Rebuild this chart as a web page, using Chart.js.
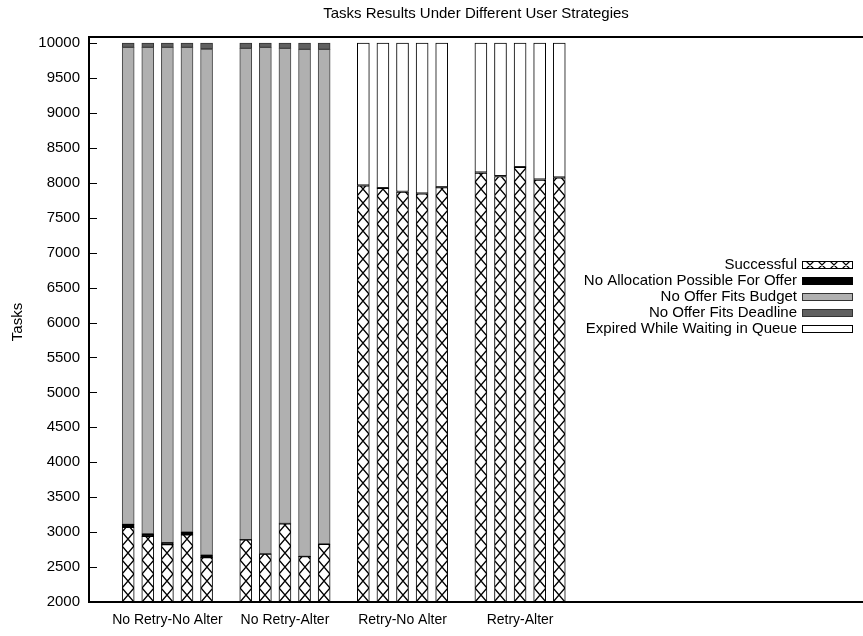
<!DOCTYPE html>
<html><head><meta charset="utf-8">
<script src="https://cdn.jsdelivr.net/npm/chart.js@4/dist/chart.umd.min.js"></script>
<style>html,body{margin:0;padding:0;background:#fff}#wrap{width:863px;height:636px}</style>
</head><body><div id="wrap"><canvas id="c" width="863" height="636"></canvas></div>
<script>
const groups = ['No Retry-No Alter', 'No Retry-Alter', 'Retry-No Alter', 'Retry-Alter'];
const seriesNames = ['Successful', 'No Allocation Possible For Offer', 'No Offer Fits Budget', 'No Offer Fits Deadline', 'Expired While Waiting in Queue'];
const successful = [3070, 2940, 2820, 2960, 2635, 2890, 2685, 3120, 2650, 2827, 7955, 7920, 7865, 7840, 7930, 8140, 8090, 8220, 8040, 8070];
const noAllocation = [40, 35, 30, 40, 35, 3, 3, 3, 3, 3, 0, 0, 0, 0, 0, 0, 0, 0, 0, 0];
const noBudget = [6828, 6963, 7088, 6938, 7244, 7031, 7250, 6801, 7257, 7080, 0, 0, 0, 0, 0, 0, 0, 0, 0, 0];
const noDeadline = [62, 62, 62, 62, 86, 76, 62, 76, 90, 90, 10, 10, 10, 10, 10, 10, 10, 10, 10, 10];
const expired = [0, 0, 0, 0, 0, 0, 0, 0, 0, 0, 2035, 2070, 2125, 2150, 2060, 1850, 1900, 1770, 1950, 1920];
const yTicks = [2000, 2500, 3000, 3500, 4000, 4500, 5000, 5500, 6000, 6500, 7000, 7500, 8000, 8500, 9000, 9500, 10000];
const runsPerGroup = 5;

const FONT = '"Liberation Sans", Arial, sans-serif';
const FS = 15;
const slot = i => Math.floor(i / runsPerGroup) * (runsPerGroup + 1) + (i % runsPerGroup);
const toPts = arr => arr.map((v, i) => ({x: slot(i), y: v}));
const groupCenters = groups.map((g, k) => k * (runsPerGroup + 1) + (runsPerGroup - 1) / 2);

function hatchFor(ctx) {
  const chart = ctx.chart;
  const xs = chart.scales.x;
  const c = document.createElement('canvas');
  c.width = 12; c.height = 14;
  const g = c.getContext('2d');
  g.fillStyle = '#fff'; g.fillRect(0, 0, 12, 14);
  g.strokeStyle = '#000'; g.lineWidth = 1.4;
  g.beginPath(); g.moveTo(0, 0); g.lineTo(12, 14); g.moveTo(12, 0); g.lineTo(0, 14); g.stroke();
  const p = chart.ctx.createPattern(c, 'repeat');
  if (xs && ctx.dataIndex !== undefined) {
    const x0 = Math.round(xs.getPixelForValue(slot(ctx.dataIndex)) - 6);
    try { p.setTransform(new DOMMatrix().translate(x0, 602)); } catch (e) {}
  }
  return p;
}

const fills = [null, '#000000', '#b0b0b0', '#606060', '#ffffff'];
const borders = ['#000000', '#000000', '#444444', '#333333', '#000000'];
const seriesData = [successful, noAllocation, noBudget, noDeadline, expired];

const framePlugin = {
  id: 'frame',
  afterDraw(chart) {
    const c = chart.ctx, a = chart.chartArea, ys = chart.scales.y;
    c.save();
    c.strokeStyle = '#000'; c.lineWidth = 1;
    c.beginPath();
    yTicks.forEach(v => { const y = Math.round(ys.getPixelForValue(v)) + 0.5; c.moveTo(a.left, y); c.lineTo(a.left + 8, y); });
    c.stroke();
    c.lineWidth = 2;
    c.beginPath();
    c.moveTo(a.right, a.top); c.lineTo(a.left, a.top); c.lineTo(a.left, a.bottom); c.lineTo(a.right, a.bottom);
    c.stroke();
    // title
    c.fillStyle = '#000';
    c.font = FS + 'px ' + FONT;
    c.textAlign = 'center'; c.textBaseline = 'middle';
    c.fillText('Tasks Results Under Different User Strategies', (a.left + a.right) / 2, 14);
    // y title
    c.save(); c.translate(18, 322); c.rotate(-Math.PI / 2); c.fillText('Tasks', 0, 0); c.restore();
    // legend
    c.textAlign = 'right';
    seriesNames.forEach((n, i) => {
      const y = 265 + i * 16;
      c.fillStyle = '#000';
      c.fillText(n, 797, y);
      const bx = 802, bw = 51, bh = 8, by = Math.round(y - 4);
      c.save();
      c.beginPath(); c.rect(bx, by, bw, bh); c.clip();
      if (i === 0) {
        c.fillStyle = '#fff'; c.fillRect(bx, by, bw, bh);
        c.beginPath(); c.lineWidth = 1.2;
        for (let k = 4; k < bw; k += 12) { c.moveTo(bx + k, by); c.lineTo(bx + k + 8, by + bh); c.moveTo(bx + k + 8, by); c.lineTo(bx + k, by + bh); }
        c.stroke();
      } else {
        c.fillStyle = fills[i]; c.fillRect(bx, by, bw, bh);
      }
      c.restore();
      c.lineWidth = 1; c.strokeStyle = i === 2 || i === 3 ? '#333' : '#000';
      c.strokeRect(bx + 0.5, by + 0.5, bw - 1, bh - 1);
      c.strokeStyle = '#000';
    });
    c.restore();
  }
};

new Chart(document.getElementById('c'), {
  type: 'bar',
  data: {
    datasets: seriesNames.map((n, i) => ({
      label: n,
      data: toPts(seriesData[i]),
      backgroundColor: i === 0 ? hatchFor : fills[i],
      borderColor: borders[i],
      borderWidth: 1,
      borderSkipped: false,
      barThickness: 12
    }))
  },
  options: {
    responsive: false,
    animation: false,
    devicePixelRatio: 1,
    layout: {padding: {top: 37, right: 0, left: 0, bottom: 0}},
    plugins: {legend: {display: false}, title: {display: false}, tooltip: {enabled: false}},
    scales: {
      x: {
        type: 'linear', stacked: true, min: -2, max: 37.5, offset: false,
        afterBuildTicks: s => { s.ticks = groupCenters.map(v => ({value: v})); },
        afterFit: s => { s.height = 34; },
        grid: {display: false, drawTicks: false, offset: false},
        border: {display: false},
        ticks: {
          padding: 10, color: '#000', font: {family: FONT, size: 14}, maxRotation: 0, autoSkip: false,
          callback: v => groups[groupCenters.indexOf(v)] || ''
        }
      },
      y: {
        stacked: true, min: 2000, max: 10086,
        afterBuildTicks: s => { s.ticks = yTicks.map(v => ({value: v})); },
        afterFit: s => { s.width = 89; },
        grid: {display: false, drawTicks: false},
        border: {display: false},
        ticks: {padding: 9, color: '#000', font: {family: FONT, size: FS}, callback: v => String(v)}
      }
    }
  },
  plugins: [framePlugin]
});
</script>
</body></html>
